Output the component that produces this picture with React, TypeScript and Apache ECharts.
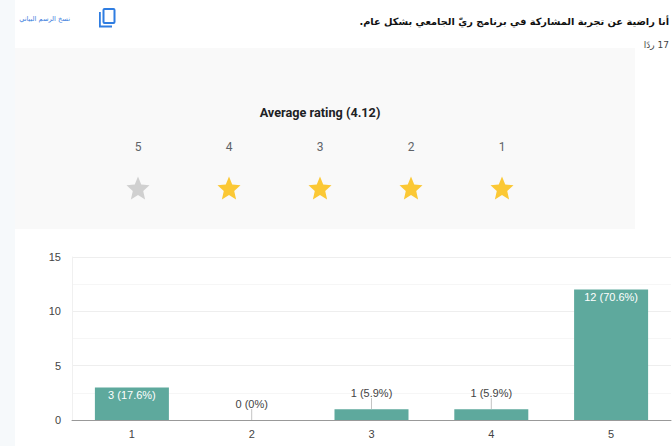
import React, { useEffect, useRef } from "react";
import * as echarts from "echarts";

const categories = ["1", "2", "3", "4", "5"];
const counts = [3, 0, 1, 1, 12];
const percents = ["17.6%", "0%", "5.9%", "5.9%", "70.6%"];
const ratingLabels = ["5", "4", "3", "2", "1"];
const ratingFilled = [false, true, true, true, true];
const yTicks = [0, 5, 10, 15];
const questionText = "\u200Fأنا راضية عن تجربة المشاركة في برنامج ريّ الجامعي بشكل عام.\u200F";
const responsesText = "\u200F17 ردًا\u200F";
const copyText = "نسخ الرسم البياني";
const averageText = "Average rating (4.12)";

const STAR = "path://M12 17.27L18.18 21l-1.64-7.03L22 9.24l-7.19-.61L12 2 9.19 8.63 2 9.24l5.46 4.73L5.82 21z";
const LATIN = '"Liberation Sans", Arial, sans-serif';
const AR = '"DejaVu Sans", "Noto Sans", sans-serif';

export default function App() {
  const ref = useRef<HTMLDivElement>(null);
  useEffect(() => {
    document.body.style.margin = "0";
    const chart = echarts.init(ref.current!, undefined, { renderer: "svg" });
    chart.setOption({
      animation: false,
      backgroundColor: "#ffffff",
      graphic: [
        { type: "rect", z: -10, silent: true, shape: { x: 0, y: 0, width: 15, height: 446 }, style: { fill: "#f6f9fb" } },
        { type: "rect", z: -10, silent: true, shape: { x: 15, y: 48, width: 620, height: 181 }, style: { fill: "#f9f9f9" } },
        { type: "text", x: 669, y: 21, style: { text: questionText, fill: "#111111", font: `bold 9.8px ${AR}`, align: "right", verticalAlign: "middle" } },
        { type: "text", x: 669, y: 45, style: { text: responsesText, fill: "#444444", font: `9px ${AR}`, align: "right", verticalAlign: "middle" } },
        { type: "text", x: 70, y: 19, style: { text: copyText, fill: "#3b7ddd", font: `6.6px ${AR}`, align: "right", verticalAlign: "middle" } },
        { type: "group", x: 99, y: 8, children: [
          { type: "rect", shape: { x: 4.5, y: 1, width: 11, height: 14, r: 1 }, style: { fill: "none", stroke: "#2f7de1", lineWidth: 2 } },
          { type: "polyline", shape: { points: [[0.9, 4], [0.9, 18.5], [13, 18.5]] }, style: { fill: "none", stroke: "#2f7de1", lineWidth: 1.8 } },
        ] },
        { type: "text", x: 320, y: 112, style: { text: averageText, fill: "#202124", font: `bold 12.7px Roboto, ${LATIN}`, align: "center", verticalAlign: "middle" } },
      ],
      grid: [
        { left: 72, right: 1, top: 257, height: 163 },
        { left: 92.5, width: 455, top: 130, height: 80 },
      ],
      xAxis: [
        {
          type: "category", gridIndex: 0, data: categories,
          axisTick: { show: false },
          axisLine: { lineStyle: { color: "#999999", width: 1 } },
          axisLabel: { color: "#444444", fontFamily: LATIN, fontSize: 11, margin: 8 },
        },
        {
          type: "category", gridIndex: 1, position: "top", data: ratingLabels,
          axisTick: { show: false }, axisLine: { show: false },
          axisLabel: { color: "#5f6368", fontFamily: "Roboto", fontSize: 12, margin: -17, verticalAlign: "middle" },
        },
      ],
      yAxis: [
        {
          type: "value", gridIndex: 0, min: 0, max: 15, interval: yTicks[1] - yTicks[0],
          axisLine: { show: true, lineStyle: { color: "#f0f0f0" } }, axisTick: { show: false },
          axisLabel: { color: "#444444", fontFamily: LATIN, fontSize: 11, margin: 11 },
          splitLine: { lineStyle: { color: "#eeeeee" } },
          minorTick: { show: false, splitNumber: 2 },
          minorSplitLine: { show: true, lineStyle: { color: "#f6f6f6" } },
        },
        { type: "value", gridIndex: 1, min: 0, max: 1, show: false },
      ],
      series: [
        {
          type: "bar", xAxisIndex: 0, yAxisIndex: 0, barWidth: 74,
          itemStyle: { color: "#5ea99d" },
          data: counts.map((v, i) => {
            const inside = v >= 3;
            return {
              value: v,
              label: {
                show: true,
                formatter: `${v} (${percents[i]})`,
                position: inside ? "insideTop" : "top",
                distance: inside ? 2 : 11,
                color: inside ? "#ffffff" : "#444444",
                fontFamily: LATIN, fontSize: 11,
              },
            };
          }),
        },
        {
          type: "custom", xAxisIndex: 0, yAxisIndex: 0, silent: true, z: 5,
          data: counts.map((v, i) => [i, v]).filter((d) => d[1] < 3),
          encode: { x: 0, y: 1 },
          renderItem: (_: any, api: any) => {
            const p = api.coord([api.value(0), api.value(1)]);
            return { type: "line", shape: { x1: p[0], y1: p[1], x2: p[0], y2: p[1] - 11 }, style: { stroke: "#c4c4c4", lineWidth: 1 } };
          },
        },
        {
          type: "scatter", xAxisIndex: 1, yAxisIndex: 1, symbol: STAR, symbolSize: 23, silent: true,
          data: ratingLabels.map((l, i) => ({
            value: [l, 0.275],
            itemStyle: { color: ratingFilled[i] ? "#fbbc04" : "#c6c6c6" },
          })),
        },
      ],
    });
    return () => chart.dispose();
  }, []);
  return <div ref={ref} style={{ width: 672, height: 446 }} />;
}
